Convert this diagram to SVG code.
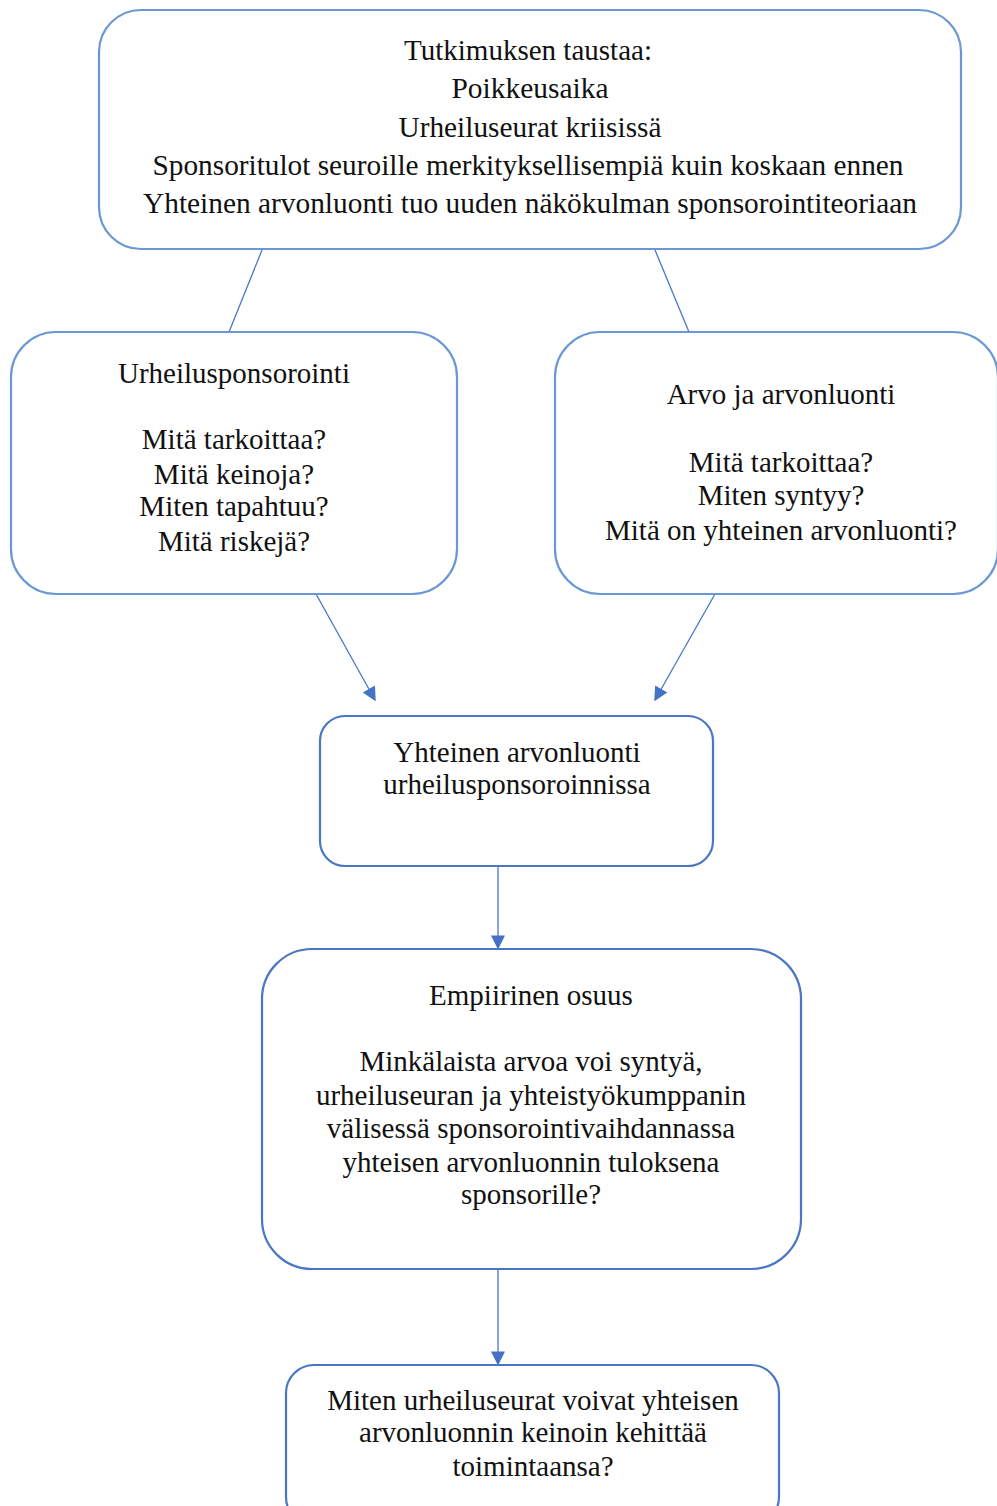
<svg xmlns="http://www.w3.org/2000/svg" width="997" height="1506" viewBox="0 0 997 1506">
<style>
.box{fill:#fff;stroke:#4a76c4;stroke-width:2.2}
.light{stroke:#6b98d4}
text{font-family:"Liberation Serif","Times New Roman",serif;font-size:29px;fill:#111;text-anchor:middle}
.conn{stroke:#4a76c4;stroke-width:1.3;fill:none}
</style>
<defs>
<marker id="ah2" viewBox="0 0 10 10" refX="9" refY="5" markerWidth="16" markerHeight="14" markerUnits="userSpaceOnUse" orient="auto"><path d="M0,0 L10,5 L0,10 Z" fill="#4472c4"/></marker>
</defs>
<rect width="997" height="1506" fill="#fff"/>
<g id="connectors">
<line class="conn" x1="262" y1="250" x2="229" y2="332"/>
<line class="conn" x1="655" y1="250" x2="689" y2="332"/>
<line class="conn" x1="316" y1="594" x2="375" y2="700" marker-end="url(#ah2)"/>
<line class="conn" x1="715" y1="594" x2="655" y2="700" marker-end="url(#ah2)"/>
<line class="conn" x1="498" y1="866" x2="498" y2="948" marker-end="url(#ah2)"/>
<line class="conn" x1="498" y1="1270" x2="498" y2="1364" marker-end="url(#ah2)"/>
</g>
<g id="n-tausta">
<rect class="box light" x="99" y="10" width="862" height="239" rx="42"/>
<text x="528" y="60" textLength="248" lengthAdjust="spacingAndGlyphs">Tutkimuksen taustaa:</text>
<text x="530" y="98" textLength="157" lengthAdjust="spacingAndGlyphs">Poikkeusaika</text>
<text x="530" y="137" textLength="263" lengthAdjust="spacingAndGlyphs">Urheiluseurat kriisissä</text>
<text x="528" y="175" textLength="751" lengthAdjust="spacingAndGlyphs">Sponsoritulot seuroille merkityksellisempiä kuin koskaan ennen</text>
<text x="530" y="213" textLength="774" lengthAdjust="spacingAndGlyphs">Yhteinen arvonluonti tuo uuden näkökulman sponsorointiteoriaan</text>
</g>
<g id="n-urheilusponsorointi">
<rect class="box light" x="11" y="332" width="446" height="262" rx="45"/>
<text x="234" y="383">Urheilusponsorointi</text>
<text x="234" y="449">Mitä tarkoittaa?</text>
<text x="234" y="484">Mitä keinoja?</text>
<text x="234" y="516">Miten tapahtuu?</text>
<text x="234" y="551">Mitä riskejä?</text>
</g>
<g id="n-arvo">
<rect class="box light" x="555" y="332" width="443" height="262" rx="45"/>
<text x="781" y="404">Arvo ja arvonluonti</text>
<text x="781" y="472">Mitä tarkoittaa?</text>
<text x="781" y="505">Miten syntyy?</text>
<text x="781" y="540">Mitä on yhteinen arvonluonti?</text>
</g>
<g id="n-yhteinen">
<rect class="box" x="320" y="716" width="393" height="150" rx="25"/>
<text x="517" y="762">Yhteinen arvonluonti</text>
<text x="517" y="794">urheilusponsoroinnissa</text>
</g>
<g id="n-empiirinen">
<rect class="box" x="262" y="949" width="539" height="320" rx="50"/>
<text x="531" y="1005">Empiirinen osuus</text>
<text x="531" y="1071">Minkälaista arvoa voi syntyä,</text>
<text x="531" y="1105">urheiluseuran ja yhteistyökumppanin</text>
<text x="531" y="1138">välisessä sponsorointivaihdannassa</text>
<text x="531" y="1172">yhteisen arvonluonnin tuloksena</text>
<text x="531" y="1204">sponsorille?</text>
</g>
<g id="n-kehittaa">
<rect class="box" x="286" y="1365" width="493" height="160" rx="28"/>
<text x="533" y="1410">Miten urheiluseurat voivat yhteisen</text>
<text x="533" y="1442">arvonluonnin keinoin kehittää</text>
<text x="533" y="1476">toimintaansa?</text>
</g>
</svg>
